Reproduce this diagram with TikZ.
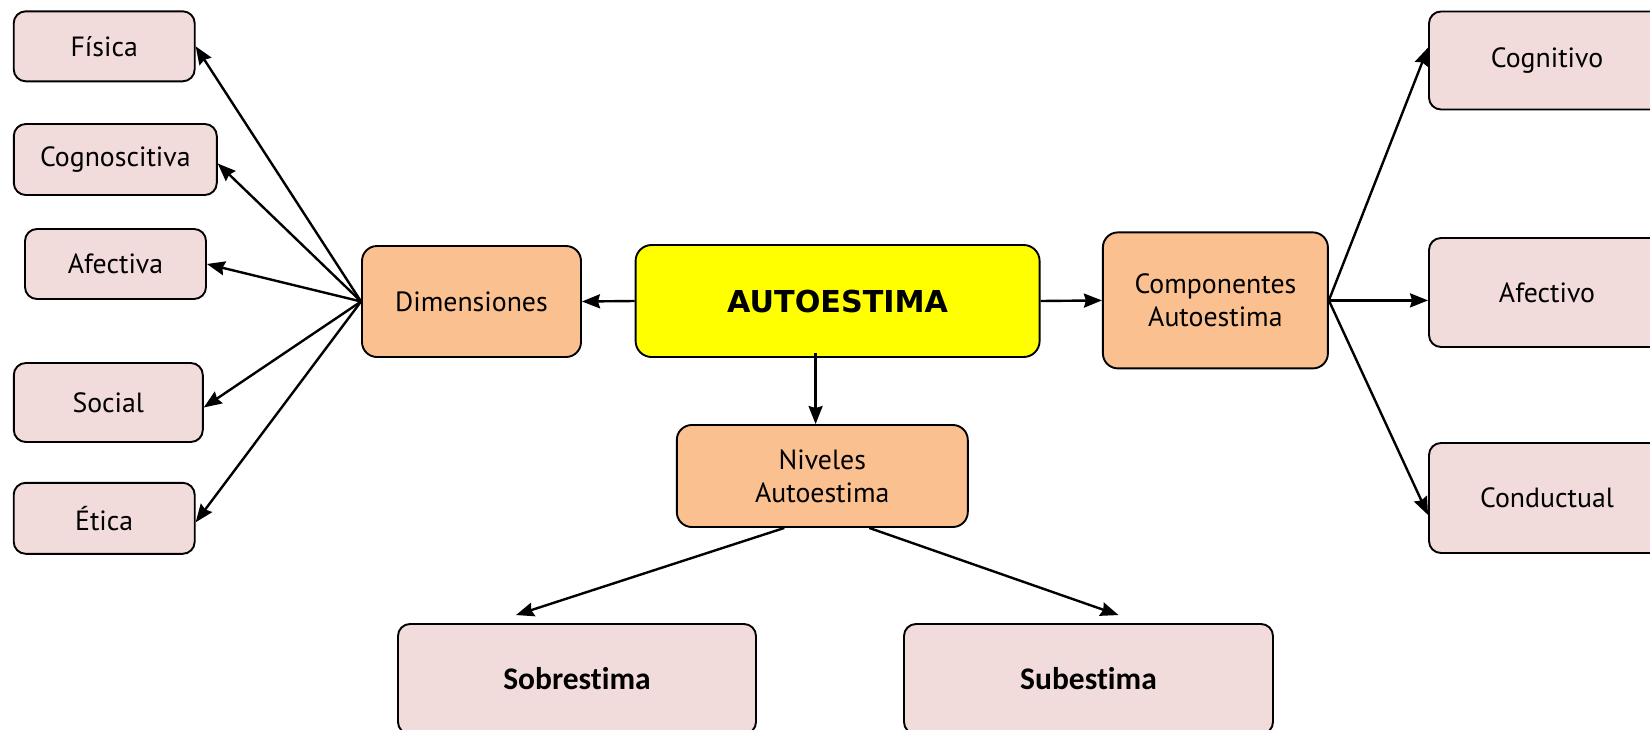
\documentclass[tikz,border=0pt]{standalone}
\usepackage{fontspec}
\setmainfont{PT Sans}
\newfontfamily\titlefont{DejaVu Sans}
\newfontfamily\levelfont[Ligatures=NoCommon]{Carlito}
\usepackage{xcolor}
\usepackage{tikz}
\usetikzlibrary{arrows.meta,positioning,calc}
\definecolor{boxpink}{RGB}{242,220,219}
\definecolor{boxorange}{RGB}{250,192,144}
\definecolor{boxyellow}{RGB}{255,255,0}
\tikzset{
  >={Stealth[length=18pt,width=14pt,inset=2pt]},
  box/.style={draw, rounded corners=12pt, line width=1.9pt, inner sep=0pt, align=center},
  leafbox/.style={box, fill=boxpink},
  groupbox/.style={box, fill=boxorange, rounded corners=15pt},
  mainbox/.style={box, fill=boxyellow, rounded corners=16pt, font=\titlefont\bfseries\fontsize{30.2}{36}\selectfont},
  levelbox/.style={leafbox, font=\levelfont\bfseries\fontsize{31.5}{37}\selectfont},
  thinarrow/.style={->, line width=2.4pt},
}

\begin{document}
\begin{tikzpicture}[x=1pt, y=-1pt, every node/.style={font=\fontsize{27.8}{32.7}\selectfont}]
  \useasboundingbox (0,0) rectangle (1650,729);
  \clip (0,0) rectangle (1650,729);

  % centre
  \node[mainbox, minimum width=404pt, minimum height=112pt] (auto) at (837.6,301) {AUTOESTIMA};
  \node[groupbox, minimum width=219pt, minimum height=111pt] (dim) at (471.5,301.5) {Dimensiones};
  \node[groupbox, minimum width=225pt, minimum height=136pt] (comp) at (1215.4,300.4) {Componentes\\Autoestima};
  \node[groupbox, minimum width=291pt, minimum height=102pt] (niv) at (822.3,476) {Niveles\\Autoestima};

  % dimensiones
  \node[leafbox, minimum width=181pt, minimum height=70pt] (fisica) at (104.2,46.3) {Física};
  \node[leafbox, minimum width=203pt, minimum height=71pt] (cognos) at (115.3,159.5) {Cognoscitiva};
  \node[leafbox, minimum width=181pt, minimum height=70pt] (afectiva) at (115.5,264) {Afectiva};
  \node[leafbox, minimum width=189pt, minimum height=79pt] (social) at (108.3,402.5) {Social};
  \node[leafbox, minimum width=181pt, minimum height=71pt] (etica) at (104.2,518.3) {Ética};

  % componentes
  \node[leafbox, minimum width=236pt, minimum height=98pt] (cognitivo) at (1547,60.5) {Cognitivo};
  \node[leafbox, minimum width=236pt, minimum height=109pt] (afectivo) at (1547,292.5) {Afectivo};
  \node[leafbox, minimum width=236pt, minimum height=110pt] (conductual) at (1547,498) {Conductual};

  % niveles
  \node[levelbox, minimum width=358pt, minimum height=110pt] (sobre) at (577,679) {Sobrestima};
  \node[levelbox, minimum width=369pt, minimum height=110pt] (sub) at (1088.5,679) {Subestima};

  \draw[thinarrow] (auto.west) -- (dim.east);
  \draw[thinarrow] (auto.east) -- (comp.west);
  \draw[thinarrow] ([xshift=-22pt,yshift=5pt]auto.south) -- ([xshift=-22pt]auto.south |- niv.north);

  \draw[thinarrow] (dim.west) -- (fisica.east);
  \draw[thinarrow] (dim.west) -- ([yshift=-4pt]cognos.east);
  \draw[thinarrow] (dim.west) -- (afectiva.east);
  \draw[thinarrow] (dim.west) -- ([yshift=-5pt]social.east);
  \draw[thinarrow] (dim.west) -- ([yshift=-4pt]etica.east);

  \draw[thinarrow] (comp.east) -- ([yshift=13pt]cognitivo.west);
  \draw[thinarrow] (comp.east) -- (comp.east -| afectivo.west);
  \draw[thinarrow] (comp.east) -- ([yshift=-17pt]conductual.west);

  \draw[thinarrow] ([xshift=-38pt]niv.south) -- ([xshift=-61pt,yshift=8pt]sobre.north);
  \draw[thinarrow] ([xshift=47pt]niv.south) -- ([xshift=30pt,yshift=8pt]sub.north);
\end{tikzpicture}
\end{document}
